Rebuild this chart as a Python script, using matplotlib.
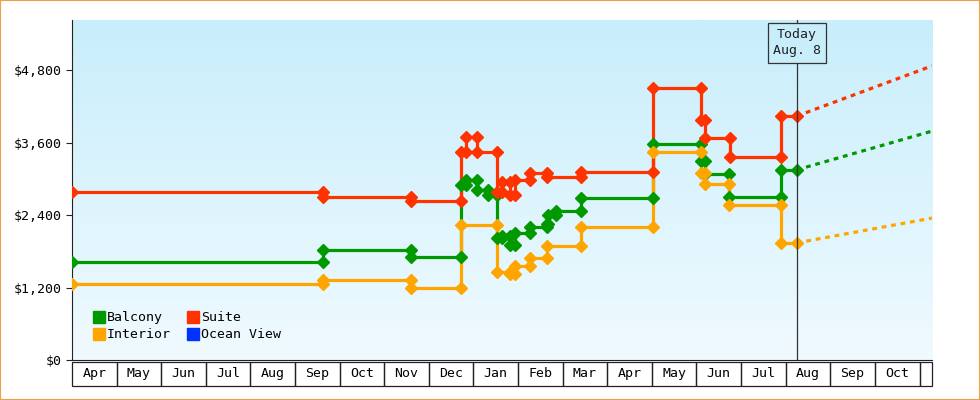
import matplotlib
matplotlib.use("Agg")
import matplotlib.pyplot as plt
import numpy as np
from matplotlib.patches import Rectangle
import matplotlib.transforms as mtrans

months = ["Apr","May","Jun","Jul","Aug","Sep","Oct","Nov","Dec","Jan","Feb","Mar","Apr","May","Jun","Jul","Aug","Sep","Oct"]
today_x = 16.25
end_x = 19.28

bal_x = [0,5.62,7.61,8.72,8.83,9.07,9.32,9.52,9.64,9.81,9.93,10.26,10.64,10.67,10.85,11.41,13.02,14.1,14.19,14.73,15.89]
bal_v = [1620,1820,1705,2900,2980,2810,2730,2020,2060,1900,2100,2200,2250,2400,2470,2680,3580,3300,3080,2700,3150]
int_x = [0,5.62,7.61,8.72,9.52,9.81,9.93,10.26,10.64,11.41,13.02,14.1,14.19,14.73,15.89]
int_v = [1260,1325,1190,2240,1460,1420,1560,1690,1890,2200,3440,3100,2910,2570,1940]
suite_x = [0,5.62,7.61,8.72,8.83,9.07,9.52,9.64,9.81,9.93,10.26,10.64,11.41,13.02,14.1,14.19,14.75,15.89]
suite_v = [2780,2700,2630,3440,3690,3440,2780,2950,2730,2980,3100,3030,3110,4500,3970,3680,3360,4040]
proj = {"Balcony":3790, "Interior":2350, "Suite":4870}

colors = {"Balcony":"#009900","Interior":"#ffa500","Suite":"#ff3300","Ocean View":"#0033ff"}
yticks = [0,1200,2400,3600,4800]

plt.rcParams['font.family'] = ['DejaVu Sans Mono']
fig = plt.figure(figsize=(9.8,4.0), dpi=100)
fig.patches.append(Rectangle((0,0),1,1,transform=fig.transFigure,fill=False,ec="#f0a040",lw=1.5))
ax = fig.add_axes([72/980, 40/400, 860/980, 340/400])
ax.set_xlim(0, end_x)
ax.set_ylim(0, 5630)
grad = np.linspace(0,1,256).reshape(-1,1)
from matplotlib.colors import LinearSegmentedColormap
cm = LinearSegmentedColormap.from_list("g", ["#f0faff", "#c8eefb"])
ax.imshow(grad, aspect='auto', cmap=cm, extent=[0,end_x,0,5630], origin='lower', zorder=0)

def draw(name, xs, vs):
    c = colors[name]
    xx = list(xs)+[today_x]; vv = list(vs)+[vs[-1]]
    ax.plot(xx, vv, drawstyle='steps-post', color=c, lw=2.3, zorder=3, solid_joinstyle='miter')
    mx=[xs[0]]; my=[vs[0]]
    for i in range(1,len(xs)):
        mx += [xs[i], xs[i]]; my += [vs[i-1], vs[i]]
    mx.append(today_x); my.append(vs[-1])
    ax.plot(mx, my, 'D', color=c, ms=6, zorder=4)
    ax.plot([today_x,end_x],[vs[-1],proj[name]], color=c, lw=2.3, ls=(0,(1.5,1.5)), zorder=3)

draw("Balcony", bal_x, bal_v)
draw("Interior", int_x, int_v)
draw("Suite", suite_x, suite_v)

ax.axvline(today_x, color="#333333", lw=0.9, zorder=5)
ax.text(today_x, 5250, "Today\nAug. 8", ha='center', va='center', fontsize=9.5, color="#222222",
        bbox=dict(boxstyle='square,pad=0.4', fc="#c8eefb", ec="#333333", lw=0.9), zorder=6, linespacing=1.3)

for s in ['top','right']: ax.spines[s].set_visible(False)
ax.spines['left'].set_color("#222222"); ax.spines['bottom'].set_color("#222222")
ax.set_yticks(yticks)
ax.set_yticklabels(["$0"] + ["${:,}".format(v) for v in yticks[1:]], fontsize=9.5)
ax.set_xticks([])
ax.tick_params(axis='y', length=4, color="#222222")
trans = mtrans.blended_transform_factory(ax.transData, ax.transAxes)
for i, m in enumerate(months):
    ax.add_patch(Rectangle((i, -0.075), 1, 0.07, transform=trans, fill=False, ec="#222222", lw=0.9, clip_on=False))
    ax.text(i+0.5, -0.04, m, transform=trans, ha='center', va='center', fontsize=9.5)
ax.add_patch(Rectangle((19, -0.075), end_x-19, 0.07, transform=trans, fill=False, ec="#222222", lw=0.9, clip_on=False))

from matplotlib.lines import Line2D
handles = [Line2D([],[],marker='s',ls='',color=colors[n],ms=8) for n in ["Balcony","Interior","Suite","Ocean View"]]
ax.legend(handles, ["Balcony","Interior","Suite","Ocean View"], ncol=2, loc='lower left', bbox_to_anchor=(0.01,0.02),
          frameon=False, fontsize=9.5, handletextpad=0.1, columnspacing=1.2, labelspacing=0.3, handlelength=1)
fig.savefig("out.png", dpi=100)
